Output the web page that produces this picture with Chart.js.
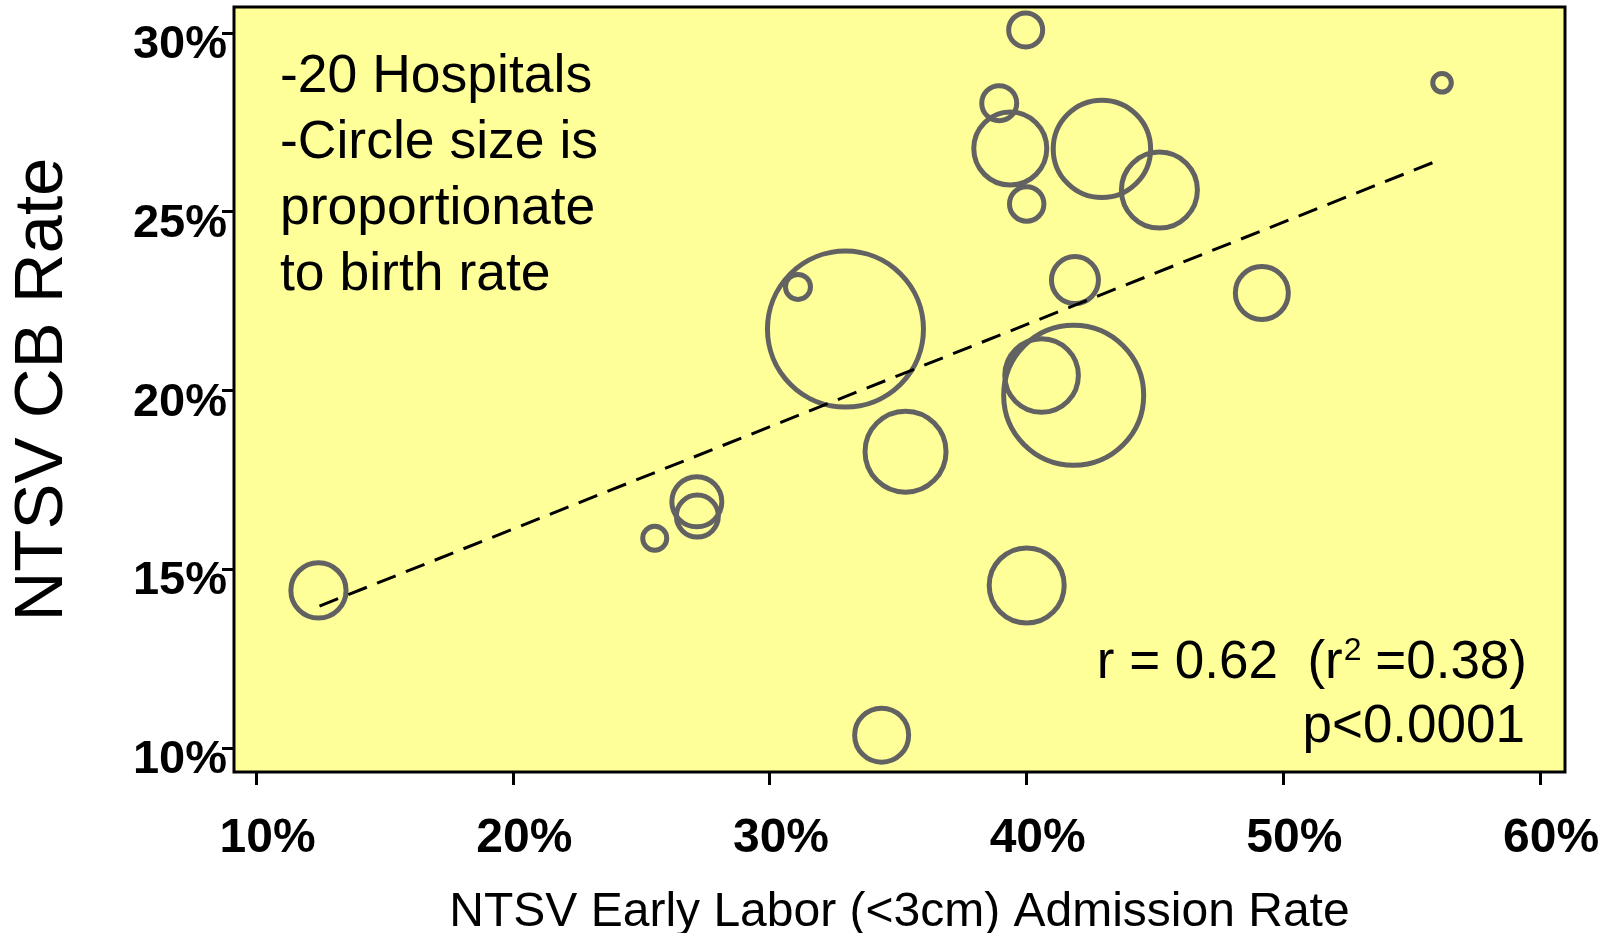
<!DOCTYPE html>
<html>
<head>
<meta charset="utf-8">
<title>NTSV CB Rate vs Early Labor Admission</title>
<script src="https://cdn.jsdelivr.net/npm/chart.js"></script>
<style>
  html, body { margin: 0; padding: 0; background: #ffffff; }
  #chart { display: block; }
</style>
</head>
<body>
<canvas id="chart" width="1606" height="933"></canvas>
<script>
// hospital data (percent)
var admitRate  = [39.96, 38.93, 56.18, 39.36, 42.93, 45.17, 40.00, 31.09, 32.94, 41.88,
                  49.16, 41.83, 40.58, 35.28, 27.15, 27.17, 25.51, 12.41, 40.00, 34.35];
var cbRate     = [30.09, 28.04, 28.61, 26.77, 26.76, 25.61, 25.22, 22.90, 21.72, 23.09,
                  22.73, 19.87, 20.42, 18.29, 16.89, 16.49, 15.87, 14.41, 14.55, 10.36];
// relative birth volume -> bubble radius
var birthSize  = [17, 17.5, 9.3, 36.5, 48.7, 38, 17.2, 12.5, 78, 23.5,
                  26.5, 70, 36.8, 40.5, 25, 21, 12, 27.6, 37.5, 27];

// regression line end points
var trendX = [12.45, 56.18];
var trendY = [13.97, 26.48];

var xTicks = [10, 20, 30, 40, 50, 60];
var yTicks = [10, 15, 20, 25, 30];

var noteLines = ["-20 Hospitals", "-Circle size is", "proportionate", "to birth rate"];

var FONT = '"Liberation Sans", Arial, sans-serif';

var bubbles = [];
for (var i = 0; i < admitRate.length; i++) {
    bubbles.push({ x: admitRate[i], y: cbRate[i], r: birthSize[i] });
}
var trend = [];
for (var j = 0; j < trendX.length; j++) {
    trend.push({ x: trendX[j], y: trendY[j] });
}

// keep the plot box where the reference has it
function noOverhang(s) {
    s.paddingLeft = 0; s.paddingRight = 0; s.paddingTop = 0; s.paddingBottom = 0;
}

// yellow plot area, black frame and the text boxes
var plotDecor = {
    id: 'plotDecor',
    beforeDatasetsDraw: function(chart) {
        var a = chart.chartArea, ctx = chart.ctx;
        ctx.save();
        ctx.fillStyle = '#FFFF99';
        ctx.fillRect(a.left, a.top, a.right - a.left, a.bottom - a.top);
        ctx.restore();
    },
    afterDraw: function(chart) {
        var a = chart.chartArea, ctx = chart.ctx;
        ctx.save();
        ctx.strokeStyle = '#000000';
        ctx.lineWidth = 3;
        ctx.strokeRect(a.left, a.top, a.right - a.left, a.bottom - a.top);

        // note, top left
        ctx.fillStyle = '#000000';
        ctx.font = '53.5px ' + FONT;
        ctx.textAlign = 'left';
        ctx.textBaseline = 'alphabetic';
        for (var k = 0; k < noteLines.length; k++) {
            ctx.fillText(noteLines[k], a.left + 46, a.top + 85 + k * 66);
        }

        // statistics, bottom right
        var right = a.right - 38;
        var base1 = a.bottom - 94;
        var big = '53px ' + FONT, small = '32px ' + FONT;
        var p1 = 'r = 0.62  (r', p2 = '2', p3 = ' =0.38)';
        ctx.font = big;
        var w1 = ctx.measureText(p1).width, w3 = ctx.measureText(p3).width;
        ctx.font = small;
        var w2 = ctx.measureText(p2).width;
        var x0 = right - (w1 + w2 + w3);
        ctx.font = big;
        ctx.fillText(p1, x0, base1);
        ctx.font = small;
        ctx.fillText(p2, x0 + w1 + 1, base1 - 18);
        ctx.font = big;
        ctx.fillText(p3, x0 + w1 + w2, base1);
        ctx.textAlign = 'right';
        ctx.fillText('p<0.0001', right - 2, a.bottom - 30.5);
        ctx.restore();
    }
};

new Chart(document.getElementById('chart'), {
    type: 'bubble',
    data: {
        datasets: [
            {
                type: 'line',
                data: trend,
                borderColor: '#000000',
                borderWidth: 3,
                borderDash: [20, 11],
                pointRadius: 0,
                fill: false,
                order: 0
            },
            {
                type: 'bubble',
                data: bubbles,
                backgroundColor: 'rgba(0,0,0,0)',
                borderColor: '#626262',
                borderWidth: 5,
                hoverRadius: 0,
                order: 1
            }
        ]
    },
    options: {
        responsive: false,
        animation: false,
        events: [],
        layout: { autoPadding: false, padding: { top: 7, right: 41, left: 0, bottom: 0 } },
        plugins: {
            legend: { display: false },
            tooltip: { enabled: false }
        },
        scales: {
            x: {
                type: 'linear',
                position: 'bottom',
                min: 9.12,
                max: 60.97,
                afterBuildTicks: function(s) { s.ticks = xTicks.map(function(v) { return { value: v }; }); },
                afterFit: function(s) { s.height = 161; noOverhang(s); },
                border: { display: false },
                grid: { drawOnChartArea: false, drawTicks: true, tickLength: 13, tickColor: '#000000', tickWidth: 3 },
                ticks: {
                    color: '#000000',
                    font: { family: FONT, size: 48, weight: 'bold' },
                    padding: 25,
                    labelOffset: 11,
                    maxRotation: 0,
                    autoSkip: false,
                    callback: function(v) { return v + '%'; }
                },
                title: {
                    display: true,
                    text: 'NTSV Early Labor (<3cm) Admission Rate',
                    color: '#000000',
                    font: { family: FONT, size: 48, lineHeight: 1 },
                    padding: { top: 0, bottom: -4 }
                }
            },
            y: {
                type: 'linear',
                position: 'left',
                min: 9.33,
                max: 30.73,
                afterBuildTicks: function(s) { s.ticks = yTicks.map(function(v) { return { value: v }; }); },
                afterFit: function(s) { s.width = 234; noOverhang(s); },
                border: { display: false },
                grid: { drawOnChartArea: false, drawTicks: true, tickLength: 12, tickColor: '#000000', tickWidth: 3 },
                ticks: {
                    color: '#000000',
                    font: { family: FONT, size: 47, weight: 'bold' },
                    padding: -5,
                    labelOffset: 12,
                    autoSkip: false,
                    callback: function(v) { return v + '%'; }
                },
                title: {
                    display: true,
                    text: 'NTSV CB Rate',
                    color: '#000000',
                    font: { family: FONT, size: 69, lineHeight: 1 },
                    padding: { top: 8, bottom: 0 }
                }
            }
        }
    },
    plugins: [plotDecor]
});
</script>
</body>
</html>
